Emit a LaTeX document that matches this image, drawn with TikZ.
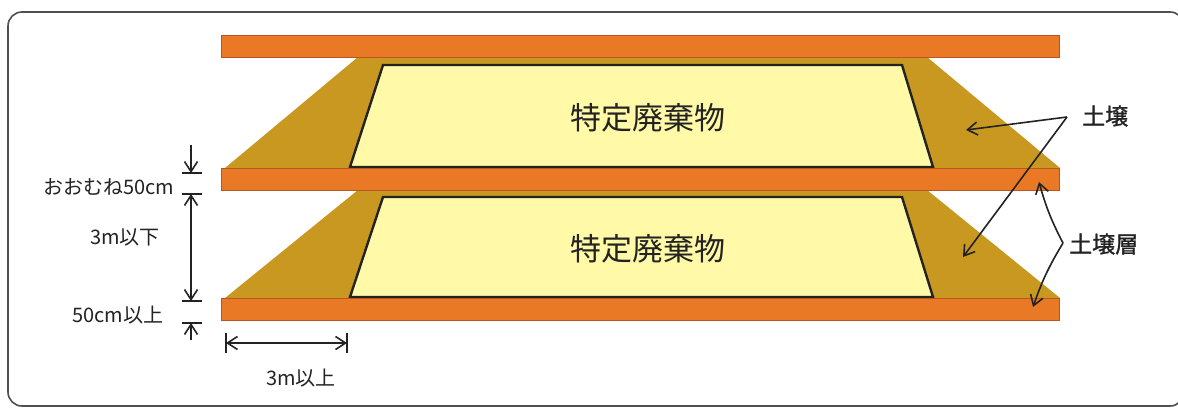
\documentclass[tikz,border=0pt]{standalone}
\usepackage{fontspec}
\setmainfont{Noto Sans CJK JP}
\newfontfamily\jp{Noto Sans CJK JP}
\newfontfamily\jpb{Noto Sans CJK JP}[FakeBold=1.2]
\usetikzlibrary{arrows.meta}
\definecolor{bandC}{RGB}{234,121,38}
\definecolor{bandD}{RGB}{185,85,35}
\definecolor{soilC}{RGB}{201,152,32}
\definecolor{wasteC}{RGB}{255,249,168}
\definecolor{inkC}{RGB}{35,35,35}
\tikzset{
  band/.style={fill=bandC, draw=bandD, line width=0.6pt},
  soil/.style={fill=soilC, draw=none},
  waste/.style={fill=wasteC, draw=inkC, line width=2.4pt, line join=miter},
  tipS/.tip={Straight Barb[length=10pt,width=13pt,line width=1.6pt]},
  dimline/.style={draw=inkC, line width=1.6pt},
  dimtick/.style={draw=inkC, line width=1.8pt},
  ptr/.style={draw=inkC, line width=1.6pt, -tipS},
  dimarr/.style={draw=inkC, line width=1.6pt, -tipS},
  lbl/.style={font=\jp\fontsize{20}{22}\selectfont, text=inkC, inner sep=0pt},
  big/.style={font=\jp\fontsize{31}{34}\selectfont, text=inkC, inner sep=0pt},
  side/.style={font=\jpb\fontsize{23}{26}\selectfont, text=inkC, inner sep=0pt}
}
\begin{document}
\begin{tikzpicture}[x=1pt,y=-1pt]
\useasboundingbox (0,0) rectangle (1178,407);
\fill[white] (0,0) rectangle (1178,407);
% frame
\draw[rounded corners=14pt, line width=1.6pt, draw=inkC!80] (8,12) rectangle (1184,406);
% layer 1
\fill[soil] (358,57) -- (927,57) -- (1060,168) -- (225,168) -- cycle;
\draw[waste] (383,65) -- (902,65) -- (933,167) -- (350,167) -- cycle;
\draw[band] (221,35) rectangle (1059,57);
% layer 2
\fill[soil] (358,190) -- (927,190) -- (1060,298) -- (225,298) -- cycle;
\draw[waste] (383,197) -- (902,197) -- (933,297) -- (350,297) -- cycle;
\draw[band] (221,168) rectangle (1059,190);
\draw[band] (221,298) rectangle (1059,320);
% waste labels
\node[big] (w1) at (648,118) {特定廃棄物};
\node[big] (w2) at (648,249) {特定廃棄物};
% left dimensions
\coordinate (t1) at (191,173);
\coordinate (t2) at (191,194);
\coordinate (t3) at (191,301);
\coordinate (t4) at (191,323);
\coordinate (a1) at (191,145);
\coordinate (a4) at (191,340);
\draw[dimtick] (182,173) -- (202,173);
\draw[dimtick] (182,194) -- (202,194);
\draw[dimtick] (182,301) -- (202,301);
\draw[dimtick] (182,323) -- (202,323);
\draw[dimarr] (a1) -- (t1);
\draw[dimline, tipS-tipS] (t2) -- (t3);
\draw[dimarr] (a4) -- (t4);
\node[lbl] (l1) at (109,187) {おおむね50cm};
\node[lbl] (l2) at (125,237) {3m以下};
\node[lbl] (l3) at (118,315) {50cm以上};
% bottom dimension
\coordinate (h1) at (226,343);
\coordinate (h2) at (347,343);
\draw[dimtick] (226,333) -- (226,353);
\draw[dimtick] (347,333) -- (347,353);
\draw[dimline, tipS-tipS] (h1) -- (h2);
\node[lbl] (l4) at (301,378) {3m以上};
% right labels
\node[side, anchor=west] (s1) at (1082,116) {土壌};
\node[side, anchor=west] (s2) at (1069,244) {土壌層};
\coordinate (p1) at (1067,117);
\coordinate (p2) at (1063,243);
\draw[ptr] (p1) -- (966,130);
\draw[ptr] (p1) -- (963,257);
\draw[ptr] (p2) to[bend left=6] (1039,182);
\draw[ptr] (p2) to[bend right=6] (1033,307);
\end{tikzpicture}
\end{document}
